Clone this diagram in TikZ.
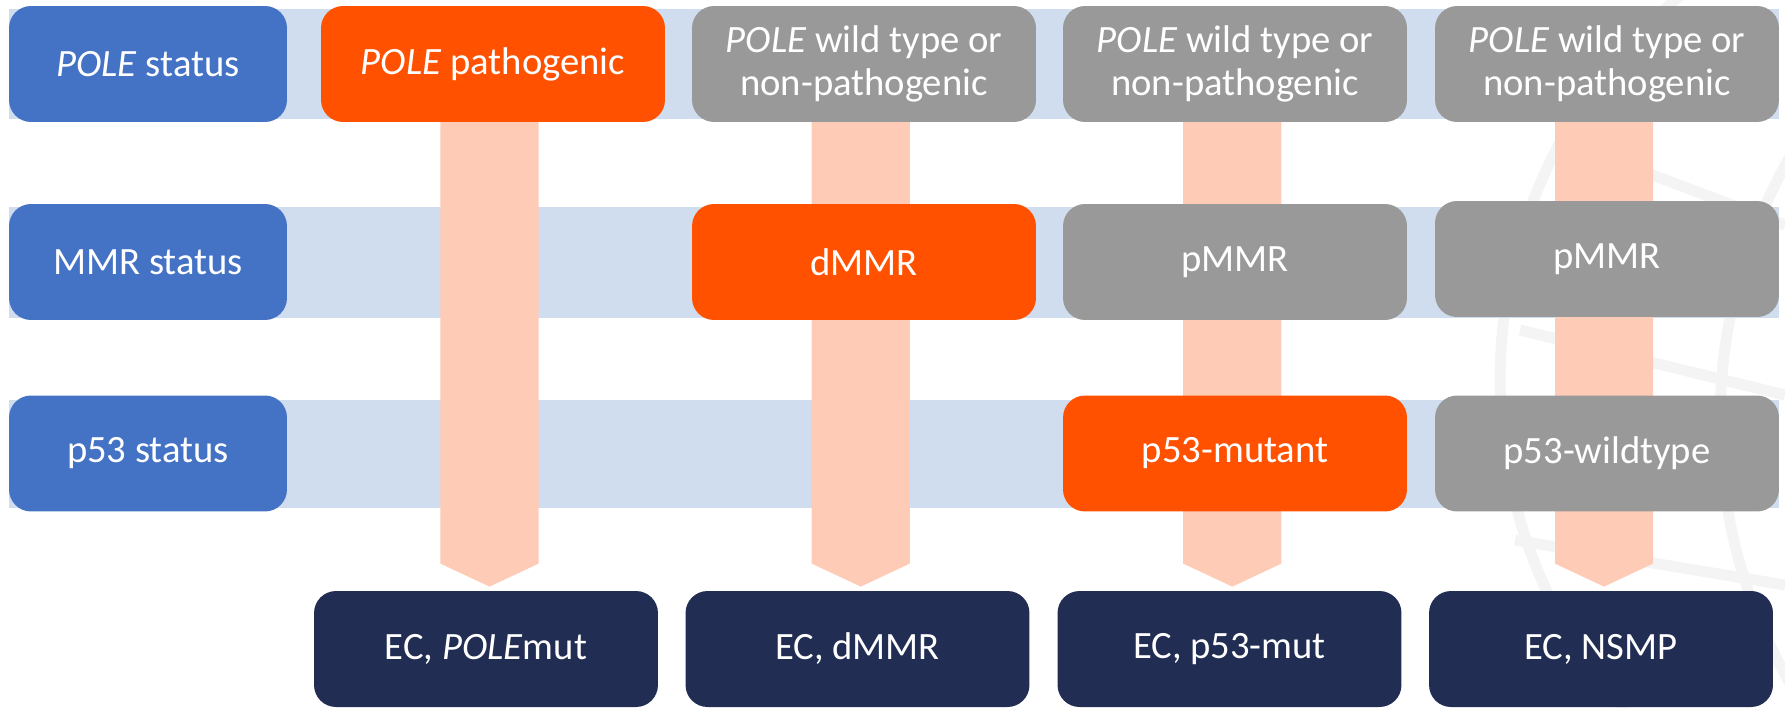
\documentclass[tikz,border=0pt]{standalone}
\usepackage{fontspec}
\setmainfont{Carlito}
\usetikzlibrary{calc}
\pgfdeclarelayer{background}
\pgfsetlayers{background,main}
\definecolor{hblue}{HTML}{4472C4}
\definecolor{hband}{HTML}{CFDDEE}
\definecolor{horange}{HTML}{FF5100}
\definecolor{hgray}{HTML}{999999}
\definecolor{hnavy}{HTML}{212D52}
\definecolor{hpeach}{HTML}{FECBB7}
\definecolor{hwm}{HTML}{F4F4F4}
\tikzset{
  cell/.style={rounded corners=0.44cm, inner sep=0pt, text=white, align=center,
    minimum height=2.32cm, font=\fontsize{22}{24.5}\selectfont},
  lab/.style={cell, fill=hblue, minimum width=5.56cm},
  hit/.style={cell, fill=horange, minimum width=6.88cm},
  miss/.style={cell, fill=hgray, minimum width=6.88cm},
  result/.style={cell, fill=hnavy, minimum width=6.88cm},
  band/.style={fill=hband},
  wm/.style={draw=hwm, line width=0.22cm},
  flow/.style={fill=hpeach}
}
\newcommand{\flowarrow}[2]{%
  \fill[flow] let \p1=(#1.south), \p2=(#2.north) in
    ({(\x1+\x2)/2-27.9pt},{\y1+4pt}) -- ({(\x1+\x2)/2+27.9pt},{\y1+4pt}) --
    ({(\x1+\x2)/2+27.9pt},{\y2+15.4pt}) -- ({(\x1+\x2)/2},{\y2+2.3pt}) --
    ({(\x1+\x2)/2-27.9pt},{\y2+15.4pt}) -- cycle;}
\begin{document}
\begin{tikzpicture}[x=0.02cm,y=-0.02cm]
\useasboundingbox (0,0) rectangle (1785,707);
% row labels
\node[lab] (L1) at (148,64) {\textit{POLE} status};
\node[lab] (L2) at (148,262) {MMR status};
\node[lab] (L3) at (148,453.5) {p53 status};
% POLE row
\node[hit]  (T1) at (493,64)  {\textit{POLE} pathogenic};
\node[miss] (T2) at (864,64)  {\textit{POLE} wild type or\\non-pathogenic};
\node[miss] (T3) at (1235,64) {\textit{POLE} wild type or\\non-pathogenic};
\node[miss] (T4) at (1607,64) {\textit{POLE} wild type or\\non-pathogenic};
% MMR row
\node[hit]  (M2) at (864,262)  {dMMR};
\node[miss] (M3) at (1235,262) {pMMR};
\node[miss] (M4) at (1607,259) {pMMR};
% p53 row
\node[hit]  (P3) at (1235,453.5) {p53-mutant};
\node[miss] (P4) at (1607,453.5) {p53-wildtype};
% results
\node[result] (B1) at (486,649)    {EC, \textit{POLE}mut};
\node[result] (B2) at (857.5,649)  {EC, dMMR};
\node[result] (B3) at (1229.5,649) {EC, p53-mut};
\node[result] (B4) at (1601,649)   {EC, NSMP};
\begin{pgfonlayer}{background}
  % watermark
  \begin{scope}
    \clip (0,0) rectangle (1785,707);
    \draw[wm] (2000,380) circle [radius=10cm];
    \draw[wm] (2250,420) circle [radius=10.6cm];
    \draw[wm] (1560,140) -- (1785,225);
    \draw[wm] (1520,330) -- (1785,395);
    \draw[wm] (1515,540) -- (1785,585);
  \end{scope}
  % bands
  \fill[band] (9,9) rectangle (1779,119);
  \fill[band] (9,207) rectangle (1779,318);
  \fill[band] (9,400) rectangle (1779,508);
  % arrows
  \flowarrow{T1}{B1}
  \flowarrow{T2}{B2}
  \flowarrow{T3}{B3}
  \flowarrow{T4}{B4}
\end{pgfonlayer}
\end{tikzpicture}
\end{document}
